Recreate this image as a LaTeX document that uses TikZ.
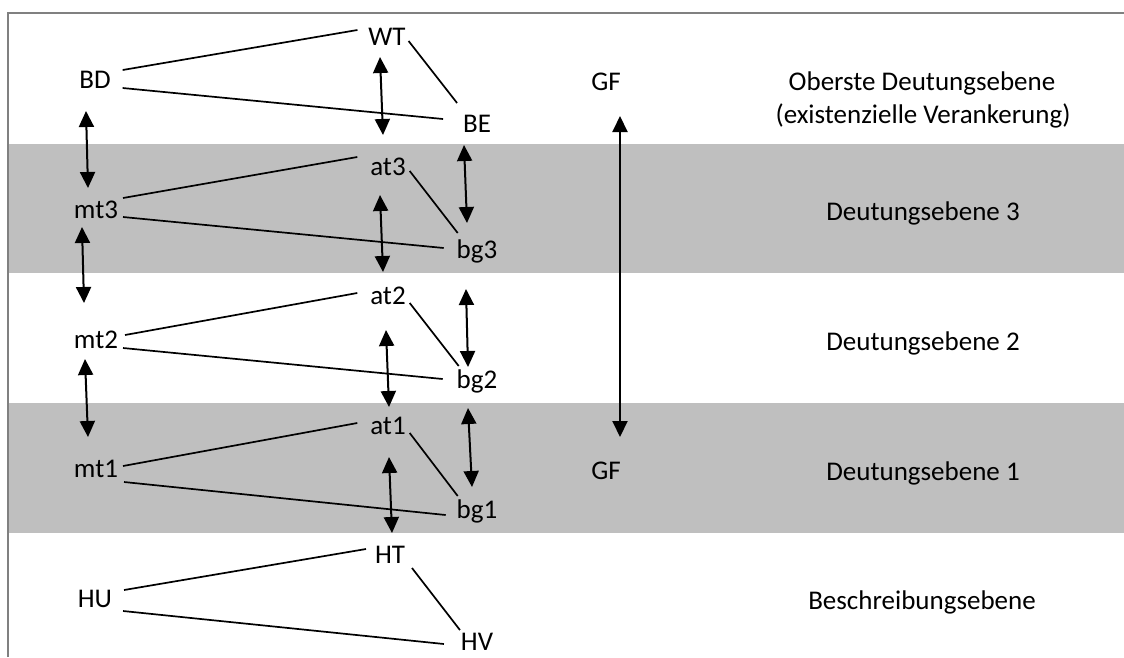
\documentclass[tikz,border=0pt]{standalone}
\usepackage{fontspec}
\setmainfont{Carlito}
\usetikzlibrary{arrows.meta}
\definecolor{bandgray}{HTML}{BFBFBF}
\definecolor{framegray}{HTML}{808080}
\begin{document}
\begin{tikzpicture}[x=1pt,y=-1pt,
  lbl/.style={inner sep=0pt, outer sep=0pt, anchor=base, font=\fontsize{27}{33}\selectfont},
  link/.style={line width=1.7pt},
  dbl/.style={line width=2pt, {Triangle[length=16pt,width=15pt]}-{Triangle[length=16pt,width=15pt]}},
]
\useasboundingbox (0,0) rectangle (1124,657);
% shaded levels
\fill[bandgray] (9,144) rectangle (1124,273);
\fill[bandgray] (9,403) rectangle (1124,533);
% frame
\draw[framegray, line width=1.5pt] (8,657) -- (8,13) -- (1124,13);

% top level
\node[lbl] (BD) at (95,88) {BD};
\node[lbl] (WT) at (387,45) {WT};
\node[lbl] (BE) at (477,132) {BE};
% level 3
\node[lbl] (mt3) at (96,218) {mt3};
\node[lbl] (at3) at (388,175) {at3};
\node[lbl] (bg3) at (477,258) {bg3};
% level 2
\node[lbl] (mt2) at (96,348) {mt2};
\node[lbl] (at2) at (388,304) {at2};
\node[lbl] (bg2) at (477,388) {bg2};
% level 1
\node[lbl] (mt1) at (96,477) {mt1};
\node[lbl] (at1) at (388,434) {at1};
\node[lbl] (bg1) at (477,518) {bg1};
% description level
\node[lbl] (HU) at (95,607) {HU};
\node[lbl] (HT) at (390,563) {HT};
\node[lbl] (HV) at (477,650) {HV};
% GF
\node[lbl] (GFa) at (606,90) {GF};
\node[lbl] (GFb) at (606,479) {GF};
% level names
\node[lbl] (n4a) at (922,90) {Oberste Deutungsebene};
\node[lbl] (n4b) at (923,123) {(existenzielle Verankerung)};
\node[lbl] (n3) at (923,220) {Deutungsebene 3};
\node[lbl] (n2) at (923,350) {Deutungsebene 2};
\node[lbl] (n1) at (923,480) {Deutungsebene 1};
\node[lbl] (n0) at (922,609) {Beschreibungsebene};

% triangles
\draw[link] ([shift={(12,-18)}]BD.base east) -- ([shift={(-11,-15)}]WT.base west);
\draw[link] ([shift={(12,0)}]BD.base east) -- ([shift={(-20,-13)}]BE.base west);
\draw[link] ([shift={(3,-4)}]WT.base east) -- ([shift={(-6,-29)}]BE.base west);

\draw[link] ([shift={(5,-20)}]mt3.base east) -- ([shift={(-13,-18)}]at3.base west);
\draw[link] ([shift={(5,-1)}]mt3.base east) -- ([shift={(-13,-10)}]bg3.base west);
\draw[link] ([shift={(4,-4)}]at3.base east) -- ([shift={(1,-25)}]bg3.base west);

\draw[link] ([shift={(7,-13)}]mt2.base east) -- ([shift={(-13,-11)}]at2.base west);
\draw[link] ([shift={(5,0)}]mt2.base east) -- ([shift={(-14,-9)}]bg2.base west);
\draw[link] ([shift={(4,-1)}]at2.base east) -- ([shift={(2,-22)}]bg2.base west);

\draw[link] ([shift={(5,-11)}]mt1.base east) -- ([shift={(-13,-11)}]at1.base west);
\draw[link] ([shift={(6,5)}]mt1.base east) -- ([shift={(-11,-3)}]bg1.base west);
\draw[link] ([shift={(4,-1)}]at1.base east) -- ([shift={(1,-22)}]bg1.base west);

\draw[link] ([shift={(12,-17)}]HU.base east) -- ([shift={(-9,-14)}]HT.base west);
\draw[link] ([shift={(11,4)}]HU.base east) -- ([shift={(-17,-6)}]HV.base west);
\draw[link] ([shift={(7,5)}]HT.base east) -- ([shift={(-1,-20)}]HV.base west);

% double arrows between levels
\draw[dbl] ([shift={(-9,23)}]BD.base) -- ([shift={(-8,-30)}]mt3.base);
\draw[dbl] ([shift={(-14,9)}]mt3.base) -- ([shift={(-12,-45)}]mt2.base);
\draw[dbl] ([shift={(-11,11)}]mt2.base) -- ([shift={(-8,-40)}]mt1.base);

\draw[dbl] ([shift={(-7,12)}]WT.base) -- ([shift={(-5,-40)}]at3.base);
\draw[dbl] ([shift={(-8,20)}]at3.base) -- ([shift={(-5,-32)}]at2.base);
\draw[dbl] ([shift={(-2,26)}]at2.base) -- ([shift={(1,-27)}]at1.base);
\draw[dbl] ([shift={(1,23)}]at1.base) -- ([shift={(2,-30)}]HT.base);

\draw[dbl] ([shift={(-13,13)}]BE.base) -- ([shift={(-10,-35)}]bg3.base);
\draw[dbl] ([shift={(-11,31)}]bg3.base) -- ([shift={(-9,-21)}]bg2.base);
\draw[dbl] ([shift={(-9,20)}]bg2.base) -- ([shift={(-5,-31)}]bg1.base);

\draw[dbl] ([shift={(14,26)}]GFa.base) -- ([shift={(14,-42)}]GFb.base);
\end{tikzpicture}
\end{document}
